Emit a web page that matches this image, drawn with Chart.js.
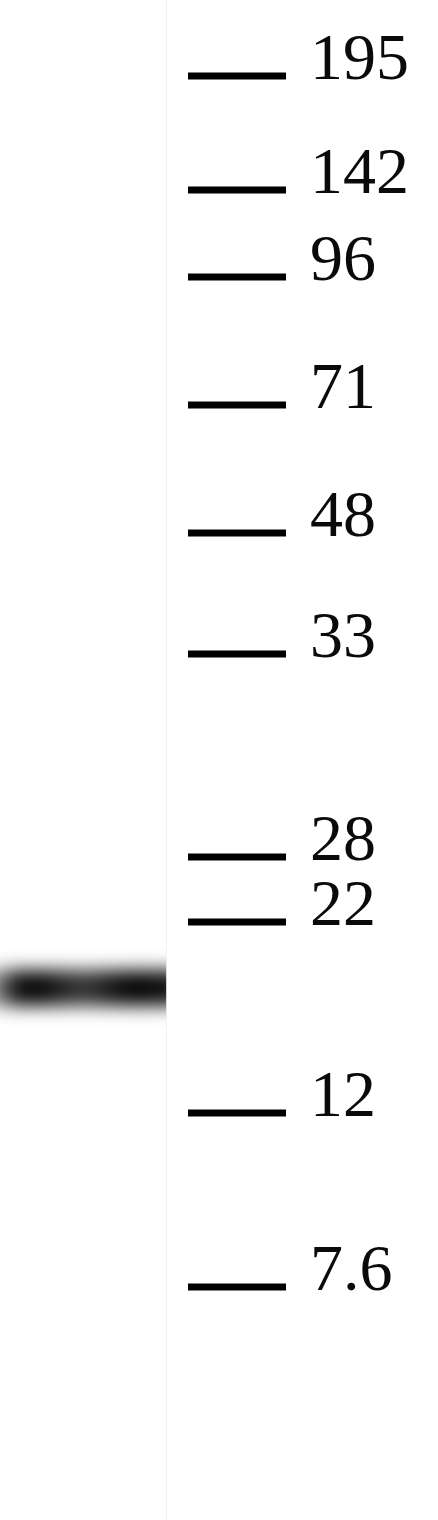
<!DOCTYPE html>
<html>
<head>
<meta charset="utf-8">
<script src="https://cdn.jsdelivr.net/npm/chart.js@4/dist/chart.umd.min.js"></script>
<style>
  html, body { margin: 0; padding: 0; background: #fff; }
  #wrap { width: 438px; height: 1520px; position: relative; }
</style>
</head>
<body>
<div id="wrap"><canvas id="blot"></canvas></div>
<script>
// Lanes of the blot
const lanes = ['Sample', 'Marker'];

// Marker ladder (kDa) and how far each band ran (px from the top of the blot)
const markerLabels = ['195', '142', '96', '71', '48', '33', '28', '22', '12', '7.6'];
const markerMigration = [76, 190, 277, 405, 533, 654, 857, 922, 1113, 1287];

// Sample band
const bandLane = 0;
const bandMigration = 988;

// Half width of a lane, in lane units
const HALF_LANE = 0.54;

// Blur some datasets like a real film exposure
const gelBlur = {
    id: 'gelBlur',
    beforeDatasetDraw(chart, args) {
        const ds = chart.data.datasets[args.index];
        if (!ds.blur) return;
        const ctx = chart.ctx;
        const x = chart.scales.x;
        const area = chart.chartArea;
        ctx.save();
        ctx.beginPath();
        ctx.rect(area.left, area.top, x.getPixelForValue(bandLane + HALF_LANE) - area.left, area.bottom - area.top);
        ctx.clip();
        ctx.filter = 'blur(' + ds.blur + 'px)';
    },
    afterDatasetDraw(chart, args) {
        const ds = chart.data.datasets[args.index];
        if (!ds.blur) return;
        chart.ctx.restore();
    }
};

// Gradient along the band: darker lobes near the lane edges
function bandColor(context) {
    const chart = context.chart;
    const area = chart.chartArea;
    if (!area) return '#222';
    const x = chart.scales.x;
    const x0 = x.getPixelForValue(bandLane - HALF_LANE);
    const x1 = x.getPixelForValue(bandLane + HALF_LANE);
    const g = chart.ctx.createLinearGradient(x0, 0, x1, 0);
    g.addColorStop(0.0, 'rgba(20,20,20,0.5)');
    g.addColorStop(0.08, '#1c1c1c');
    g.addColorStop(0.2, '#050505');
    g.addColorStop(0.5, '#383838');
    g.addColorStop(0.8, '#050505');
    g.addColorStop(1.0, '#121212');
    return g;
}

const ctx = document.getElementById('blot').getContext('2d');
new Chart(ctx, {
    type: 'scatter',
    data: {
        datasets: [
            {
                // the band in the sample lane
                type: 'line',
                data: [
                    { x: bandLane - HALF_LANE - 0.1, y: bandMigration },
                    { x: bandLane + HALF_LANE + 0.1, y: bandMigration }
                ],
                borderColor: bandColor,
                borderWidth: 36,
                borderCapStyle: 'butt',
                pointRadius: 0,
                blur: 9
            },
            {
                // marker ladder ticks
                data: markerMigration.map(y => ({ x: lanes.indexOf('Marker'), y: y })),
                pointStyle: 'line',
                pointRadius: 49,
                borderColor: '#000',
                borderWidth: 7
            }
        ]
    },
    options: {
        responsive: true,
        maintainAspectRatio: false,
        animation: false,
        events: [],
        layout: { padding: 0, autoPadding: false },
        plugins: {
            legend: { display: false },
            tooltip: { enabled: false }
        },
        scales: {
            x: {
                type: 'linear',
                min: -0.539,
                max: 1.409,
                afterBuildTicks: scale => { scale.ticks = [{ value: bandLane + HALF_LANE }]; },
                afterFit: scale => { scale.height = 0; },
                ticks: { display: false },
                grid: { color: 'rgba(0,0,0,0.05)', lineWidth: 1, drawTicks: false },
                border: { display: false }
            },
            y: {
                type: 'linear',
                position: 'right',
                reverse: true,
                min: 0,
                max: 1520,
                afterBuildTicks: scale => {
                    scale.ticks = markerMigration.map(v => ({ value: v }));
                },
                afterFit: scale => {
                    scale.width = 138;
                    scale.paddingTop = 0;
                    scale.paddingBottom = 0;
                },
                ticks: {
                    autoSkip: false,
                    callback: (value, index) => markerLabels[index],
                    font: { family: '"Liberation Serif", "DejaVu Serif", serif', size: 66 },
                    color: '#0a0a0a',
                    padding: 10,
                    labelOffset: -14,
                    crossAlign: 'near'
                },
                grid: { display: false, drawTicks: false },
                border: { display: false }
            }
        }
    },
    plugins: [gelBlur]
});
</script>
</body>
</html>
